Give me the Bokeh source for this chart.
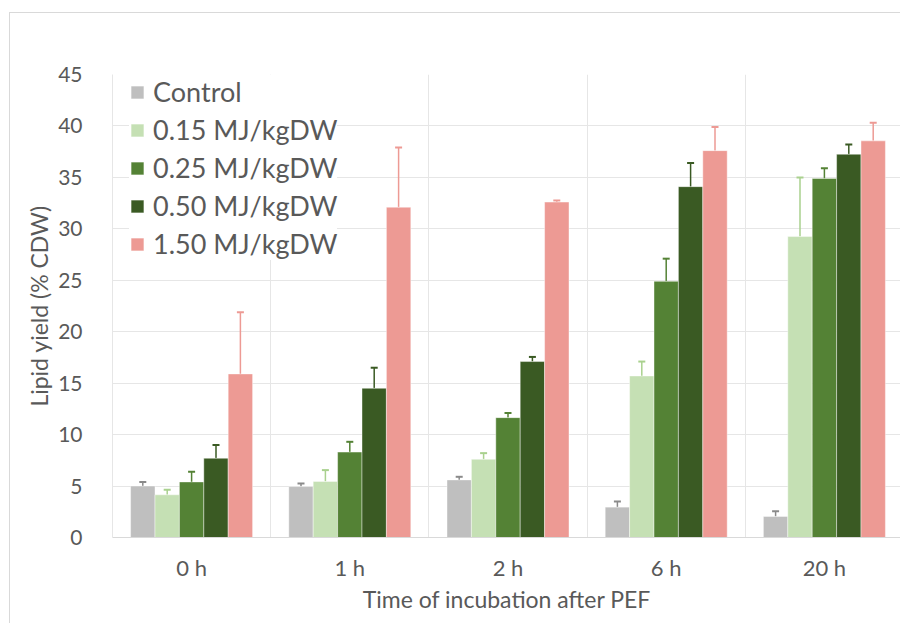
from bokeh.plotting import figure
from bokeh.models import (ColumnDataSource, Range1d, FixedTicker, Whisker, TeeHead,
                          Legend, LegendItem)
from bokeh.embed import file_html
from bokeh.resources import INLINE

# ---- data ----
times = ["0 h", "1 h", "2 h", "6 h", "20 h"]
series = ["Control", "0.15 MJ/kgDW", "0.25 MJ/kgDW", "0.50 MJ/kgDW", "1.50 MJ/kgDW"]
control = [5.0, 4.95, 5.6, 2.95, 2.05]
control_err = [0.4, 0.3, 0.3, 0.55, 0.5]
e015 = [4.15, 5.45, 7.6, 15.7, 29.25]
e015_err = [0.5, 1.1, 0.6, 1.4, 5.75]
e025 = [5.4, 8.3, 11.65, 24.9, 34.9]
e025_err = [1.0, 1.0, 0.45, 2.2, 1.0]
e050 = [7.7, 14.5, 17.1, 34.1, 37.25]
e050_err = [1.3, 2.0, 0.45, 2.3, 0.95]
e150 = [15.9, 32.1, 32.6, 37.6, 38.55]
e150_err = [6.0, 5.8, 0.15, 2.3, 1.75]
y_ticks = [0, 5, 10, 15, 20, 25, 30, 35, 40, 45]

values = [control, e015, e025, e050, e150]
errors = [control_err, e015_err, e025_err, e050_err, e150_err]
colors = ["#BFBFBF", "#C5E0B4", "#548235", "#3A5A23", "#ED9A94"]
err_colors = ["#8A8A8A", "#A9D18E", "#548235", "#3A5A23", "#ED9A94"]

TXT = "#595959"
FONT = "Lato"

p = figure(width=891, height=611,
           x_range=Range1d(0, 789 / 158.2), y_range=Range1d(0, 45),
           output_backend="svg", toolbar_location=None,
           min_border_left=102, min_border_right=0,
           min_border_top=61, min_border_bottom=87)
p.styles = {"margin-left": "9px", "margin-top": "12px",
            "border-left": "1px solid #D9D9D9", "border-top": "1px solid #D9D9D9"}
p.outline_line_color = None
p.background_fill_color = "white"
p.border_fill_color = "white"

bw = 24.4 / 158.2
renderers = []
for i, (name, vals, errs, col, ecol) in enumerate(zip(series, values, errors, colors, err_colors)):
    xs = [k + 0.5 + (i - 2) * bw for k in range(len(times))]
    src = ColumnDataSource(dict(x=xs, top=vals,
                                upper=[v + e for v, e in zip(vals, errs)]))
    w = Whisker(source=src, base="x", lower="top", upper="upper", dimension="height",
                line_color=ecol, line_width=1.5,
                upper_head=TeeHead(size=7, line_color=ecol, line_width=2),
                lower_head=None)
    p.add_layout(w)
    r = p.vbar(x="x", top="top", width=bw, bottom=0, source=src,
               fill_color=col, line_color="white", line_width=0.6, line_alpha=0.7)
    renderers.append(r)

# axes
p.yaxis.ticker = FixedTicker(ticks=y_ticks)
p.xaxis.ticker = FixedTicker(ticks=[k + 0.5 for k in range(len(times))])
p.xaxis.major_label_overrides = {k + 0.5: t for k, t in enumerate(times)}
for ax in (p.xaxis[0], p.yaxis[0]):
    ax.major_tick_line_color = None
    ax.minor_tick_line_color = None
    ax.major_label_text_color = TXT
    ax.major_label_text_font = FONT
    ax.axis_label_text_color = TXT
    ax.axis_label_text_font = FONT
    ax.axis_label_text_font_style = "normal"
    ax.axis_label_text_font_size = "23px"
p.yaxis.major_label_text_font_size = "21px"
p.xaxis.major_label_text_font_size = "22px"
p.yaxis.axis_line_color = "#E6E6E6"
p.xaxis.axis_line_color = "#D9D9D9"
p.yaxis.major_label_standoff = 24
p.xaxis.major_label_standoff = 10
p.yaxis.axis_label = "Lipid yield (% CDW)"
p.xaxis.axis_label = "Time of incubation after PEF"
p.yaxis.axis_label_standoff = 2
p.xaxis.axis_label_standoff = 1

p.ygrid.ticker = FixedTicker(ticks=y_ticks)
p.ygrid.grid_line_color = "#E6E6E6"
p.xgrid.ticker = FixedTicker(ticks=[0, 1, 2, 3, 4, 5])
p.xgrid.grid_line_color = "#E6E6E6"

legend = Legend(items=[LegendItem(label=s, renderers=[r]) for s, r in zip(series, renderers)],
                location=(17, 277), orientation="vertical",
                label_text_font=FONT, label_text_font_size="27px", label_text_color=TXT,
                glyph_width=16, glyph_height=16, label_standoff=8, spacing=5,
                padding=4, margin=0, border_line_color=None,
                background_fill_color="white", background_fill_alpha=1.0)
p.add_layout(legend)

open("out.html", "w").write(file_html(p, INLINE))
